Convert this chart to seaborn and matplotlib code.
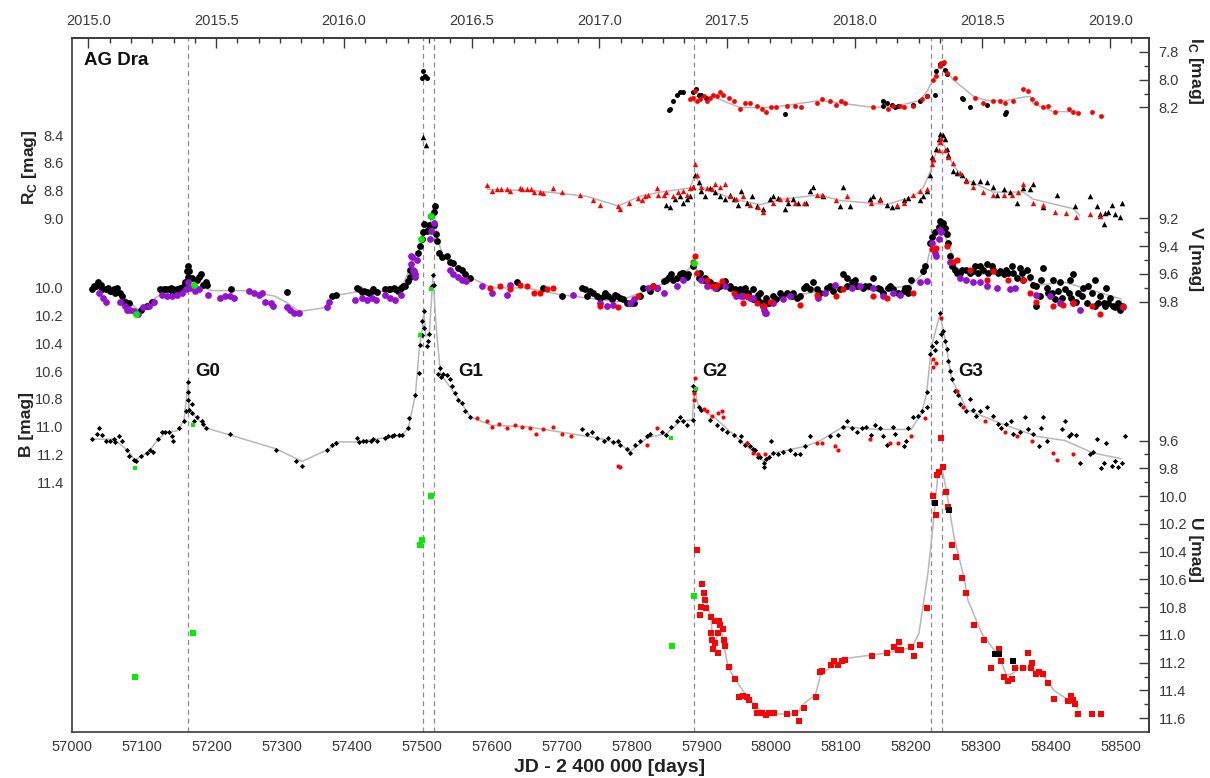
import numpy as np
import pandas as pd
import matplotlib
matplotlib.use("Agg")
import matplotlib.pyplot as plt
import seaborn as sns

# ---- light curves of AG Dra: (JD - 2400000, magnitude) ----
ic_black = [(57502, 7.94), (57505, 7.97), (57501, 7.99), (57508, 7.99),
            (57853, 8.22), (57855, 8.21), (57860, 8.15), (57865, 8.11), (57869, 8.09), (57874, 8.09),
            (57888, 8.09), (57892, 8.07), (57896, 8.11), (57900, 8.11), (57907, 8.13),
            (58019, 8.25), (58160, 8.19), (58160, 8.15), (58165, 8.17), (58172, 8.18), (58177, 8.20),
            (58181, 8.19), (58203, 8.18), (58212, 8.15), (58222, 8.12), (58234, 8.11), (58236, 7.94),
            (58241, 7.89), (58246, 7.88), (58248, 7.93), (58251, 7.96), (58272, 8.13), (58274, 8.14),
            (58284, 8.20), (58308, 8.18), (58334, 8.25), (58336, 8.23)]
ic_red = [(57884, 8.14), (57888, 8.13), (57891, 8.08), (57893, 8.15), (57898, 8.14), (57903, 8.12),
          (57908, 8.15), (57912, 8.13), (57917, 8.11), (57922, 8.12), (57927, 8.09), (57931, 8.11),
          (57939, 8.13), (57946, 8.15), (57955, 8.21), (57962, 8.17), (57969, 8.17), (57979, 8.19),
          (57986, 8.21), (57993, 8.23), (58000, 8.20), (58007, 8.20), (58022, 8.19), (58034, 8.19),
          (58043, 8.20), (58065, 8.17), (58072, 8.14), (58084, 8.15), (58093, 8.18), (58100, 8.15),
          (58105, 8.17), (58146, 8.20), (58167, 8.21), (58174, 8.19), (58184, 8.19), (58189, 8.20),
          (58203, 8.19), (58215, 8.14), (58222, 8.12), (58231, 8.00), (58236, 7.97), (58241, 7.90),
          (58243, 7.88), (58247, 7.87), (58251, 7.95), (58262, 7.99), (58291, 8.13), (58303, 8.17),
          (58317, 8.15), (58327, 8.15), (58334, 8.17), (58346, 8.15), (58360, 8.07), (58367, 8.08),
          (58372, 8.14), (58379, 8.17), (58389, 8.20), (58396, 8.19), (58405, 8.23), (58425, 8.21),
          (58432, 8.23), (58439, 8.24), (58458, 8.23), (58472, 8.26)]
ic_trend = [(57884, 8.12), (57920, 8.13), (57955, 8.20), (58000, 8.20), (58070, 8.15), (58146, 8.20),
            (58180, 8.19), (58212, 8.15), (58222, 8.09), (58231, 8.00), (58241, 7.89), (58251, 7.94),
            (58260, 8.00), (58289, 8.12), (58308, 8.15), (58336, 8.15), (58355, 8.13), (58370, 8.12),
            (58374, 8.17), (58403, 8.23), (58432, 8.23)]

rc_black = [(57502, 8.41), (57506, 8.47),
            (57850, 8.90), (57855, 8.92), (57862, 8.86), (57869, 8.84), (57874, 8.89), (57879, 8.86),
            (57884, 8.84), (57888, 8.77), (57891, 8.69), (57896, 8.74), (57900, 8.80), (57905, 8.84),
            (57912, 8.78), (57919, 8.81), (57927, 8.84), (57934, 8.86), (57941, 8.83), (57946, 8.86),
            (57953, 8.90), (57957, 8.80), (57965, 8.89), (57972, 8.84), (57979, 8.91), (57988, 8.93),
            (57998, 8.86), (58003, 8.84), (58010, 8.85), (58019, 8.93), (58024, 8.89), (58031, 8.86),
            (58038, 8.89), (58050, 8.89), (58055, 8.80), (58060, 8.77), (58074, 8.84), (58098, 8.91),
            (58103, 8.77), (58112, 8.91), (58141, 8.86), (58146, 8.84), (58155, 8.86), (58165, 8.90),
            (58172, 8.92), (58179, 8.91), (58189, 8.87), (58196, 8.85), (58212, 8.87), (58217, 8.84),
            (58222, 8.80), (58227, 8.69), (58229, 8.56), (58231, 8.57), (58236, 8.50), (58240, 8.43),
            (58241, 8.39), (58246, 8.40), (58248, 8.43), (58251, 8.50), (58253, 8.54), (58260, 8.66),
            (58265, 8.67), (58272, 8.69), (58279, 8.72), (58289, 8.74), (58298, 8.73), (58308, 8.74),
            (58317, 8.77), (58322, 8.83), (58332, 8.79), (58341, 8.81), (58351, 8.89), (58360, 8.78),
            (58370, 8.79), (58374, 8.75), (58389, 8.92), (58408, 8.83), (58434, 8.91), (58456, 8.84),
            (58465, 8.91), (58470, 8.97), (58475, 9.04), (58477, 8.96), (58482, 8.95), (58487, 8.90),
            (58491, 8.97), (58498, 8.99), (58502, 8.89)]
rc_red = [(57594, 8.76), (57600, 8.80), (57607, 8.79), (57614, 8.79), (57622, 8.79), (57626, 8.80),
          (57641, 8.78), (57643, 8.79), (57650, 8.79), (57657, 8.79), (57660, 8.81), (57669, 8.81),
          (57674, 8.82), (57688, 8.78), (57700, 8.81), (57726, 8.83), (57745, 8.87), (57755, 8.90),
          (57781, 8.91), (57783, 8.93), (57796, 8.89), (57810, 8.85), (57815, 8.87), (57819, 8.84),
          (57824, 8.83), (57836, 8.78), (57838, 8.83), (57846, 8.83), (57850, 8.81), (57860, 8.84),
          (57867, 8.81), (57874, 8.80), (57879, 8.83), (57884, 8.78), (57888, 8.77), (57891, 8.61),
          (57893, 8.69), (57900, 8.77), (57908, 8.78), (57915, 8.79), (57919, 8.75), (57927, 8.77),
          (57934, 8.75), (57941, 8.84), (57950, 8.86), (57960, 8.84), (57969, 8.90), (57981, 8.92),
          (57988, 8.95), (58003, 8.89), (58012, 8.86), (58022, 8.86), (58034, 8.89), (58046, 8.89),
          (58065, 8.83), (58072, 8.83), (58093, 8.87), (58108, 8.84), (58143, 8.89), (58155, 8.87),
          (58179, 8.90), (58189, 8.89), (58203, 8.83), (58212, 8.80), (58222, 8.79), (58229, 8.61),
          (58231, 8.57), (58239, 8.51), (58241, 8.45), (58243, 8.42), (58248, 8.51), (58253, 8.56),
          (58260, 8.60), (58270, 8.67), (58279, 8.73), (58289, 8.77), (58303, 8.81), (58317, 8.83),
          (58332, 8.83), (58344, 8.83), (58353, 8.81), (58360, 8.75), (58374, 8.89), (58389, 8.90),
          (58405, 8.95), (58422, 8.96), (58436, 8.99), (58456, 8.97), (58470, 8.98)]
rc_trend = [(57594, 8.79), (57660, 8.80), (57700, 8.82), (57736, 8.84), (57781, 8.91), (57812, 8.84),
            (57841, 8.81), (57884, 8.78), (57891, 8.68), (57898, 8.77), (57946, 8.86), (57984, 8.90),
            (58017, 8.86), (58069, 8.83), (58098, 8.87), (58165, 8.90), (58203, 8.84), (58217, 8.78),
            (58229, 8.64), (58241, 8.42), (58253, 8.53), (58260, 8.62), (58279, 8.72), (58317, 8.81),
            (58360, 8.81), (58374, 8.86), (58432, 8.93), (58441, 8.98)]

v_black = [(57029, 9.71), (57034, 9.69), (57037, 9.66), (57041, 9.68), (57043, 9.71), (57048, 9.71),
           (57055, 9.72), (57060, 9.71), (57064, 9.70), (57069, 9.74), (57076, 9.80), (57081, 9.81),
           (57098, 9.86), (57107, 9.83), (57114, 9.80), (57126, 9.71), (57131, 9.71), (57138, 9.71),
           (57143, 9.72), (57150, 9.71), (57155, 9.70), (57162, 9.66), (57166, 9.62), (57166, 9.54),
           (57168, 9.58), (57172, 9.63), (57179, 9.64), (57184, 9.60), (57188, 9.68), (57193, 9.68),
           (57228, 9.71), (57307, 9.73), (57372, 9.76), (57377, 9.75), (57408, 9.70), (57415, 9.73),
           (57422, 9.73), (57429, 9.72), (57436, 9.73), (57448, 9.71), (57455, 9.71), (57462, 9.71),
           (57470, 9.70), (57471, 9.70), (57476, 9.69), (57474, 9.69), (57481, 9.65), (57484, 9.62),
           (57483, 9.57), (57495, 9.45), (57498, 9.40), (57500, 9.35), (57502, 9.30), (57503, 9.24),
           (57507, 9.29), (57510, 9.25), (57514, 9.18), (57517, 9.15), (57519, 9.11), (57517, 9.25),
           (57521, 9.31), (57522, 9.36), (57525, 9.45), (57529, 9.48), (57536, 9.47), (57541, 9.51),
           (57545, 9.52), (57552, 9.56), (57557, 9.57), (57562, 9.60), (57569, 9.63), (57636, 9.66),
           (57674, 9.70), (57700, 9.76), (57729, 9.70), (57734, 9.71), (57741, 9.72), (57750, 9.76),
           (57760, 9.76), (57767, 9.76), (57776, 9.75), (57784, 9.77), (57793, 9.81), (57800, 9.81),
           (57817, 9.70), (57831, 9.69), (57846, 9.65), (57853, 9.62), (57860, 9.64), (57869, 9.60),
           (57874, 9.59), (57881, 9.60), (57888, 9.54), (57896, 9.63), (57903, 9.64), (57910, 9.66),
           (57919, 9.68), (57927, 9.69), (57934, 9.65), (57941, 9.70), (57950, 9.74), (57958, 9.72),
           (57965, 9.76), (57974, 9.78), (57984, 9.80), (57993, 9.81), (57955, 9.71), (57960, 9.74),
           (57967, 9.76), (57974, 9.71), (57981, 9.75), (57988, 9.83), (57996, 9.81), (58003, 9.76),
           (58012, 9.74), (58022, 9.74), (58029, 9.76), (58036, 9.77), (58041, 9.76), (58050, 9.69),
           (58055, 9.71), (58060, 9.66), (58069, 9.74), (58079, 9.70), (58088, 9.72), (58098, 9.71),
           (58103, 9.60), (58108, 9.63), (58115, 9.66), (58122, 9.69), (58131, 9.70), (58139, 9.69),
           (58146, 9.63), (58153, 9.70), (58160, 9.74), (58167, 9.70), (58174, 9.71), (58181, 9.74),
           (58189, 9.72), (58196, 9.70), (58200, 9.64), (58217, 9.58), (58220, 9.54), (58227, 9.38),
           (58229, 9.33), (58234, 9.30), (58239, 9.26), (58241, 9.22), (58246, 9.23), (58248, 9.27),
           (58251, 9.31), (58253, 9.38), (58255, 9.47), (58258, 9.54), (58262, 9.57), (58270, 9.59),
           (58279, 9.57), (58289, 9.58), (58298, 9.54), (58308, 9.53), (58317, 9.57), (58327, 9.58),
           (58336, 9.57), (58346, 9.59), (58355, 9.56), (58365, 9.57), (58360, 9.64), (58379, 9.69),
           (58384, 9.76), (58389, 9.56), (58396, 9.74), (58403, 9.64), (58413, 9.66), (58420, 9.71),
           (58427, 9.64), (58432, 9.60), (58439, 9.74), (58446, 9.70), (58453, 9.69), (58463, 9.64),
           (58470, 9.76), (58475, 9.81), (58479, 9.70), (58484, 9.77), (58489, 9.83), (58496, 9.81),
           (58501, 9.83), (58379, 9.83),
           (57031, 9.69), (57036, 9.68), (57052, 9.70), (57057, 9.72), (57062, 9.74), (57072, 9.76),
           (57074, 9.81), (57129, 9.72), (57134, 9.71), (57141, 9.70), (57145, 9.71), (57153, 9.71),
           (57160, 9.69), (57164, 9.58), (57181, 9.62), (57191, 9.66), (57410, 9.71), (57417, 9.72),
           (57424, 9.74), (57431, 9.71), (57453, 9.71), (57460, 9.70), (57466, 9.72),
           (57736, 9.76), (57745, 9.74), (57755, 9.77), (57762, 9.74), (57772, 9.78), (57779, 9.76),
           (57788, 9.78), (57803, 9.81), (57812, 9.76), (57827, 9.72), (57836, 9.70), (57850, 9.64),
           (57857, 9.60), (57865, 9.63), (57872, 9.59), (57879, 9.62), (57898, 9.59), (57905, 9.63),
           (57912, 9.66), (57922, 9.70), (57941, 9.69), (57948, 9.71), (57955, 9.75), (57967, 9.74),
           (57979, 9.77), (57989, 9.81),
           (57962, 9.70), (57976, 9.78), (57984, 9.74), (57993, 9.77), (58007, 9.78), (58015, 9.76),
           (58031, 9.74), (58046, 9.70), (58065, 9.71), (58084, 9.69), (58108, 9.69), (58119, 9.64),
           (58134, 9.69), (58155, 9.71), (58170, 9.69), (58191, 9.70), (58196, 9.74),
           (58265, 9.59), (58272, 9.57), (58284, 9.59), (58291, 9.54), (58296, 9.59), (58303, 9.57),
           (58310, 9.59), (58315, 9.54), (58324, 9.59), (58332, 9.60), (58339, 9.59), (58344, 9.54),
           (58351, 9.63), (58358, 9.59), (58370, 9.62), (58374, 9.68), (58386, 9.64), (58394, 9.70),
           (58401, 9.74), (58405, 9.78), (58410, 9.72), (58415, 9.77), (58425, 9.74), (58429, 9.77),
           (58436, 9.80), (58444, 9.76), (58451, 9.81), (58458, 9.74), (58463, 9.83), (58467, 9.81),
           (58477, 9.83), (58482, 9.81), (58491, 9.84), (58498, 9.86)]
v_purple = [(57038, 9.74), (57045, 9.77), (57048, 9.80), (57069, 9.80), (57076, 9.83), (57079, 9.86),
            (57083, 9.86), (57088, 9.87), (57095, 9.89), (57102, 9.84), (57110, 9.83), (57117, 9.80),
            (57129, 9.75), (57136, 9.76), (57143, 9.76), (57150, 9.75), (57157, 9.74), (57163, 9.71),
            (57166, 9.66), (57169, 9.70), (57176, 9.72), (57181, 9.71), (57195, 9.75), (57212, 9.77),
            (57219, 9.76), (57226, 9.76), (57231, 9.77), (57253, 9.72), (57260, 9.74), (57267, 9.75),
            (57272, 9.74), (57276, 9.80), (57284, 9.81), (57288, 9.83), (57307, 9.84), (57312, 9.86),
            (57317, 9.88), (57324, 9.88), (57365, 9.84), (57368, 9.80), (57405, 9.79), (57415, 9.77),
            (57422, 9.79), (57429, 9.77), (57435, 9.79), (57448, 9.75), (57455, 9.77), (57462, 9.79),
            (57470, 9.75), (57485, 9.53), (57489, 9.58), (57491, 9.60), (57493, 9.50), (57485, 9.47),
            (57486, 9.48), (57488, 9.57), (57490, 9.62), (57512, 9.35), (57514, 9.29), (57517, 9.23),
            (57541, 9.57), (57545, 9.60), (57552, 9.62), (57557, 9.64), (57564, 9.65), (57586, 9.69),
            (57600, 9.74), (57622, 9.75), (57626, 9.68), (57717, 9.75), (57755, 9.81), (57765, 9.83),
            (57774, 9.82), (57798, 9.81), (57803, 9.78), (57824, 9.70), (57836, 9.70), (57846, 9.74),
            (57865, 9.69), (57874, 9.64), (57900, 9.64), (57908, 9.69), (57919, 9.70), (57934, 9.69),
            (57950, 9.76), (57960, 9.76), (57974, 9.77), (57989, 9.86), (57993, 9.88), (57957, 9.76),
            (57969, 9.77), (57988, 9.83), (57991, 9.88), (58003, 9.81), (58017, 9.78), (58027, 9.76),
            (58067, 9.77), (58077, 9.74), (58091, 9.68), (58115, 9.70), (58127, 9.69), (58146, 9.70),
            (58160, 9.76), (58174, 9.74), (58184, 9.75), (58212, 9.66), (58222, 9.65), (58229, 9.38),
            (58234, 9.45), (58236, 9.47), (58239, 9.35), (58241, 9.28), (58243, 9.30), (58255, 9.51),
            (58270, 9.63), (58279, 9.64), (58289, 9.66), (58298, 9.66), (58308, 9.69), (58322, 9.70),
            (58341, 9.71), (58348, 9.70), (58379, 9.75), (58398, 9.76), (58413, 9.81), (58432, 9.81),
            (58441, 9.86), (58503, 9.84)]
v_red = [(57598, 9.70), (57612, 9.69), (57626, 9.71), (57641, 9.68), (57650, 9.69), (57660, 9.74),
         (57669, 9.74), (57679, 9.71), (57688, 9.70), (57755, 9.83), (57781, 9.84), (57810, 9.76),
         (57831, 9.69), (57888, 9.51), (57891, 9.47), (57893, 9.59), (57908, 9.64), (57915, 9.69),
         (57922, 9.68), (57929, 9.65), (57946, 9.74), (57965, 9.76), (57979, 9.81), (57989, 9.83),
         (57960, 9.81), (57998, 9.80), (58041, 9.82), (58065, 9.75), (58093, 9.76), (58103, 9.71),
         (58146, 9.76), (58165, 9.77), (58203, 9.74), (58229, 9.42), (58236, 9.41), (58251, 9.40),
         (58260, 9.51), (58265, 9.50), (58284, 9.57), (58308, 9.64), (58317, 9.58), (58339, 9.64),
         (58360, 9.64), (58370, 9.74), (58379, 9.80), (58403, 9.83), (58417, 9.82), (58432, 9.81),
         (58458, 9.83), (58470, 9.89), (58503, 9.83)]
v_green = [(57091, 9.89), (57174, 9.68), (57499, 9.35), (57514, 9.18), (57889, 9.52)]
v_trend = [(57029, 9.70), (57069, 9.74), (57095, 9.86), (57117, 9.78), (57135, 9.72), (57160, 9.70),
           (57166, 9.60), (57176, 9.68), (57200, 9.72), (57250, 9.72), (57290, 9.76), (57305, 9.80),
           (57325, 9.87), (57365, 9.84), (57372, 9.76), (57405, 9.73), (57470, 9.72), (57486, 9.52),
           (57498, 9.40), (57503, 9.26), (57510, 9.28), (57517, 9.13), (57522, 9.33), (57530, 9.47),
           (57560, 9.60), (57600, 9.70), (57650, 9.70), (57700, 9.75), (57780, 9.80), (57830, 9.70),
           (57870, 9.62), (57889, 9.53), (57900, 9.63), (57950, 9.72), (57990, 9.80), (58050, 9.74),
           (58100, 9.70), (58150, 9.72), (58200, 9.68), (58220, 9.58), (58229, 9.38), (58241, 9.24),
           (58253, 9.38), (58265, 9.56), (58300, 9.60), (58350, 9.60), (58380, 9.68), (58420, 9.66),
           (58460, 9.72), (58500, 9.78)]

b_black = [(57029, 11.09), (57036, 11.05), (57038, 11.01), (57043, 11.06), (57048, 11.10), (57055, 11.10),
           (57060, 11.09), (57062, 11.11), (57067, 11.07), (57071, 11.10), (57079, 11.17), (57082, 11.21),
           (57088, 11.24), (57091, 11.25), (57098, 11.21), (57107, 11.19), (57112, 11.17), (57116, 11.18),
           (57123, 11.09), (57128, 11.04), (57133, 11.04), (57139, 11.04), (57143, 11.07), (57145, 11.10),
           (57153, 11.01), (57160, 10.96), (57163, 10.89), (57166, 10.81), (57166, 10.75), (57166, 10.68),
           (57168, 10.88), (57171, 10.84), (57172, 10.90), (57175, 10.96), (57179, 10.93), (57186, 10.96),
           (57187, 10.98), (57192, 11.01), (57226, 11.05), (57292, 11.17), (57320, 11.25), (57329, 11.28),
           (57365, 11.17), (57372, 11.13), (57377, 11.12), (57408, 11.08), (57411, 11.11), (57416, 11.10),
           (57420, 11.10), (57427, 11.10), (57431, 11.09), (57436, 11.10), (57447, 11.08), (57452, 11.07),
           (57457, 11.07), (57461, 11.06), (57467, 11.06), (57472, 11.06), (57481, 11.01), (57482, 10.94),
           (57491, 10.77), (57496, 10.61), (57497, 10.41), (57501, 10.34), (57500, 10.24), (57503, 10.17),
           (57504, 10.29), (57508, 10.42), (57509, 10.38), (57511, 10.33), (57515, 9.99), (57516, 9.91),
           (57517, 9.98), (57524, 10.62), (57527, 10.64), (57526, 10.58), (57531, 10.62), (57536, 10.63),
           (57541, 10.66), (57543, 10.71), (57548, 10.76), (57552, 10.81), (57557, 10.83), (57562, 10.89),
           (57569, 10.93), (57729, 11.02), (57736, 11.05), (57743, 11.04), (57750, 11.08), (57760, 11.10),
           (57767, 11.08), (57774, 11.11), (57781, 11.10), (57784, 11.13), (57793, 11.16), (57798, 11.19),
           (57805, 11.13), (57812, 11.10), (57822, 11.07), (57827, 11.05), (57843, 11.04), (57850, 11.06),
           (57857, 11.00), (57865, 10.96), (57869, 10.93), (57874, 10.96), (57879, 10.99), (57888, 10.95),
           (57888, 10.71), (57889, 10.74), (57896, 10.86), (57900, 10.88), (57912, 10.95), (57922, 10.99),
           (57929, 11.02), (57936, 11.04), (57946, 11.06), (57955, 11.10), (57962, 11.13), (57970, 11.14),
           (57977, 11.17), (57984, 11.22), (57989, 11.26), (57993, 11.23), (57957, 11.07), (57965, 11.12),
           (57974, 11.16), (57981, 11.22), (57989, 11.29), (57996, 11.22), (58000, 11.10), (58003, 11.19),
           (58010, 11.20), (58017, 11.18), (58027, 11.17), (58034, 11.20), (58041, 11.20), (58048, 11.14),
           (58055, 11.07), (58084, 11.07), (58096, 11.06), (58103, 11.00), (58108, 10.96), (58115, 11.01),
           (58122, 11.04), (58129, 11.01), (58136, 11.00), (58143, 11.06), (58148, 10.99), (58155, 11.01),
           (58160, 11.07), (58165, 11.13), (58174, 11.00), (58177, 11.05), (58189, 11.14), (58193, 11.10),
           (58196, 11.01), (58203, 10.93), (58210, 10.92), (58215, 10.89), (58222, 10.86), (58222, 10.75),
           (58227, 10.48), (58229, 10.42), (58234, 10.45), (58236, 10.39), (58241, 10.18), (58243, 10.33),
           (58246, 10.31), (58248, 10.38), (58251, 10.44), (58253, 10.53), (58255, 10.60), (58258, 10.66),
           (58262, 10.74), (58267, 10.77), (58270, 10.84), (58279, 10.89), (58284, 10.80), (58289, 10.88),
           (58293, 10.92), (58298, 10.89), (58308, 10.86), (58317, 10.92), (58324, 10.98), (58329, 11.01),
           (58336, 10.98), (58343, 10.96), (58346, 11.05), (58355, 11.04), (58363, 10.93), (58367, 11.02),
           (58374, 11.05), (58382, 11.14), (58386, 11.01), (58389, 10.93), (58394, 11.10), (58415, 11.02),
           (58420, 10.96), (58425, 11.07), (58429, 11.05), (58436, 11.06), (58441, 11.26), (58455, 11.20),
           (58460, 11.18), (58465, 11.09), (58472, 11.30), (58475, 11.26), (58479, 11.12), (58487, 11.28),
           (58491, 11.25), (58496, 11.29), (58501, 11.26), (58506, 11.07)]
b_red = [(57579, 10.94), (57593, 10.96), (57600, 11.00), (57610, 10.98), (57622, 11.01), (57633, 10.99),
         (57643, 11.00), (57655, 11.01), (57664, 11.05), (57674, 11.02), (57688, 11.00), (57700, 11.05),
         (57714, 11.07), (57781, 11.28), (57784, 11.29), (57822, 11.13), (57836, 11.01), (57889, 10.76),
         (57889, 10.81), (57891, 10.65), (57903, 10.87), (57908, 10.89), (57915, 10.92), (57924, 10.90),
         (57929, 10.89), (57931, 10.93), (57965, 11.12), (57974, 11.19), (57981, 11.20), (57991, 11.20),
         (58065, 11.12), (58072, 11.12), (58091, 11.14), (58096, 11.17), (58141, 11.09), (58169, 11.12),
         (58181, 11.12), (58200, 11.07), (58220, 10.94), (58231, 10.51), (58231, 10.57), (58236, 10.54),
         (58243, 10.22), (58265, 10.74), (58274, 10.86), (58305, 10.96), (58334, 11.04), (58351, 11.07),
         (58372, 11.10), (58403, 11.19), (58408, 11.24), (58432, 11.20)]
b_green = [(57090, 11.30), (57173, 10.99), (57498, 10.34), (57514, 10.01), (57857, 11.08), (57892, 10.73)]
b_trend = [(57029, 11.09), (57060, 11.09), (57079, 11.17), (57090, 11.24), (57110, 11.18), (57123, 11.09),
           (57135, 11.04), (57150, 11.03), (57160, 10.96), (57166, 10.69), (57168, 10.88), (57192, 11.01),
           (57226, 11.06), (57292, 11.16), (57329, 11.25), (57368, 11.16), (57377, 11.11), (57408, 11.11),
           (57472, 11.06), (57481, 11.01), (57491, 10.77), (57497, 10.42), (57501, 10.30), (57503, 10.17),
           (57506, 10.35), (57511, 10.33), (57516, 9.92), (57521, 10.30), (57527, 10.62), (57550, 10.78),
           (57570, 10.93), (57600, 10.99), (57650, 11.00), (57700, 11.04), (57750, 11.08), (57782, 11.12),
           (57798, 11.18), (57822, 11.08), (57850, 11.05), (57870, 10.96), (57887, 10.95), (57890, 10.72),
           (57896, 10.86), (57920, 10.94), (57960, 11.12), (57989, 11.25), (58003, 11.19), (58050, 11.14),
           (58070, 11.10), (58103, 11.00), (58150, 11.02), (58200, 11.02), (58215, 10.90), (58222, 10.76),
           (58229, 10.42), (58241, 10.19), (58248, 10.36), (58258, 10.66), (58280, 10.88), (58330, 10.98),
           (58380, 11.07), (58420, 11.10), (58460, 11.19), (58500, 11.23)]

u_red = [(57893, 10.39), (57901, 10.63), (57903, 10.70), (57905, 10.75), (57899, 10.80), (57907, 10.81),
         (57898, 10.86), (57913, 10.87), (57920, 10.90), (57925, 10.90), (57926, 10.93), (57931, 10.96),
         (57914, 10.99), (57924, 10.99), (57915, 11.04), (57919, 11.06), (57932, 11.04), (57934, 11.08),
         (57916, 11.10), (57924, 11.13), (57939, 11.23), (57948, 11.32), (57954, 11.45), (57960, 11.44),
         (57965, 11.45), (57968, 11.47), (57976, 11.51), (57980, 11.56), (57987, 11.56), (57992, 11.58),
         (57997, 11.56), (58004, 11.56), (58022, 11.57), (58034, 11.56), (58040, 11.62), (58046, 11.53),
         (58064, 11.45), (58069, 11.27), (58072, 11.26), (58085, 11.22), (58089, 11.19), (58095, 11.22),
         (58101, 11.19), (58106, 11.18), (58144, 11.15), (58166, 11.13), (58175, 11.09), (58182, 11.05),
         (58181, 11.11), (58186, 11.11), (58200, 11.09), (58204, 11.15), (58212, 11.07), (58222, 10.81),
         (58231, 10.00), (58236, 10.14), (58237, 9.85), (58239, 9.83), (58243, 9.58), (58246, 9.79),
         (58250, 9.97), (58252, 10.08), (58258, 10.35), (58264, 10.44), (58273, 10.59), (58278, 10.70),
         (58290, 10.93), (58304, 11.04), (58326, 11.10), (58329, 11.19), (58314, 11.24), (58333, 11.30),
         (58339, 11.33), (58344, 11.32), (58349, 11.24), (58360, 11.24), (58367, 11.13), (58371, 11.24),
         (58372, 11.20), (58378, 11.28), (58382, 11.27), (58389, 11.28), (58396, 11.35), (58404, 11.46),
         (58424, 11.48), (58429, 11.44), (58431, 11.47), (58434, 11.50), (58439, 11.57), (58458, 11.57),
         (58472, 11.57)]
u_black = [(58234, 10.05), (58254, 10.10), (58320, 11.14), (58326, 11.14), (58345, 11.19)]
u_green = [(57090, 11.30), (57173, 10.99), (57498, 10.35), (57500, 10.32), (57513, 10.00),
           (57858, 11.08), (57890, 10.72)]
u_trend = [(57900, 10.68), (57914, 10.87), (57916, 11.08), (57928, 10.96), (57938, 11.23), (57948, 11.32),
           (57966, 11.45), (57981, 11.53), (57996, 11.57), (58036, 11.57), (58048, 11.49), (58063, 11.43),
           (58071, 11.28), (58106, 11.17), (58166, 11.13), (58201, 11.09), (58211, 10.99), (58224, 10.55),
           (58231, 10.22), (58238, 9.85), (58244, 9.80), (58251, 9.98), (58261, 10.29), (58276, 10.60),
           (58281, 10.75), (58301, 10.99), (58326, 11.16), (58336, 11.29), (58345, 11.28), (58354, 11.24),
           (58372, 11.24), (58387, 11.28), (58404, 11.40), (58422, 11.46), (58439, 11.53)]

outburst_jd = [57166, 57501.5, 57517, 57890, 58228, 58243.5]
outburst_labels = [("G0", 57176), ("G1", 57552), ("G2", 57901), ("G3", 58267)]

# every band shares one axis, shifted so the curves stack
offset = {"Ic": 0.5, "Rc": 0.5, "V": 0.3, "B": 0.0, "U": 1.5}
rc_ticks = [8.4, 8.6, 8.8, 9.0]
b_ticks = [10.0, 10.2, 10.4, 10.6, 10.8, 11.0, 11.2, 11.4]
ic_ticks = [7.8, 8.0, 8.2]
v_ticks = [9.2, 9.4, 9.6, 9.8]
u_ticks = [9.6, 9.8, 10.0, 10.2, 10.4, 10.6, 10.8, 11.0, 11.2, 11.4, 11.6]

RED, PURPLE, GREEN, BLACK = "#ff0000", "#9412d0", "#00ee00", "#000000"
INK = "#3a3a3a"


def to_df(points, band):
    df = pd.DataFrame(points, columns=["jd", "mag"])
    df["y"] = df["mag"] + offset[band]
    return df


sns.set_style("white")
plt.rcParams["font.family"] = ["Liberation Sans", "DejaVu Sans"]
plt.rcParams["mathtext.fontset"] = "custom"
plt.rcParams["mathtext.rm"] = "Liberation Sans"
plt.rcParams["mathtext.bf"] = "Liberation Sans:bold"

fig = plt.figure(figsize=(12.1, 7.78), dpi=100)
ax = fig.add_axes([0.0595, 0.0591, 0.8901, 0.8920])

for jd in outburst_jd:
    ax.axvline(jd, color="#8c8c8c", lw=0.9, ls=(0, (4, 3)), zorder=1)

for pts, band in [(ic_trend, "Ic"), (rc_trend, "Rc"), (v_trend, "V"), (b_trend, "B"), (u_trend, "U")]:
    sns.lineplot(data=to_df(pts, band), x="jd", y="y", color="#b8b8b8", lw=1.1,
                 sort=False, estimator=None, ax=ax, zorder=2)

series = [
    (ic_black, "Ic", BLACK, "o", 13), (ic_red, "Ic", RED, "o", 12),
    (rc_black, "Rc", BLACK, "^", 16), (rc_red, "Rc", RED, "^", 15),
    (v_black, "V", BLACK, "o", 24), (v_purple, "V", PURPLE, "o", 24),
    (v_red, "V", RED, "o", 20), (v_green, "V", GREEN, "o", 24),
    (b_black, "B", BLACK, "D", 7), (b_red, "B", RED, "o", 9), (b_green, "B", GREEN, "s", 8),
    (u_red, "U", RED, "s", 16), (u_black, "U", BLACK, "s", 16), (u_green, "U", GREEN, "s", 14),
]
for pts, band, col, mk, size in series:
    sns.scatterplot(data=to_df(pts, band), x="jd", y="y", color=col, marker=mk, s=size,
                    linewidth=0, ax=ax, zorder=3)

ax.set_xlim(57000, 58540)
ax.set_ylim(13.2, 8.2)
ax.set_xlabel("")
ax.set_ylabel("")

# bottom JD axis
ax.set_xticks(np.arange(57000, 58501, 100))
ax.set_xticks(np.arange(57000, 58540, 20), minor=True)

# left axis: Rc and B
left_major = [t + offset["Rc"] for t in rc_ticks] + [t + offset["B"] for t in b_ticks]
left_labels = [f"{t:.1f}" for t in rc_ticks + b_ticks]
ax.set_yticks(left_major, left_labels)
left_minor = [t + 0.1 + offset["Rc"] for t in rc_ticks[:-1]] + [t + 0.1 + offset["B"] for t in b_ticks[:-1]]
ax.set_yticks(left_minor, minor=True)

ax.tick_params(which="major", direction="in", length=7, width=1, color=INK,
               labelcolor=INK, labelsize=10.5, pad=6)
ax.tick_params(which="minor", direction="in", length=3.5, width=1, color=INK)

# right axis: Ic, V, U
right = ax.secondary_yaxis("right", functions=(lambda y: y, lambda y: y))
right_major = ([t + offset["Ic"] for t in ic_ticks] + [t + offset["V"] for t in v_ticks]
               + [t + offset["U"] for t in u_ticks])
right_labels = [f"{t:.1f}" for t in ic_ticks + v_ticks + u_ticks]
right.set_yticks(right_major, right_labels)
right_minor = ([t + 0.1 + offset["Ic"] for t in ic_ticks[:-1]] + [t + 0.1 + offset["V"] for t in v_ticks[:-1]]
               + [t + 0.1 + offset["U"] for t in u_ticks[:-1]])
right.set_yticks(right_minor, minor=True)


# top axis: calendar year
def jd2yr(jd):
    return 2015.0 + (np.asarray(jd) - 57023.5) / 365.25


def yr2jd(yr):
    return 57023.5 + (np.asarray(yr) - 2015.0) * 365.25


top = ax.secondary_xaxis("top", functions=(jd2yr, yr2jd))
year_ticks = [2015.0, 2015.5, 2016.0, 2016.5, 2017.0, 2017.5, 2018.0, 2018.5, 2019.0]
top.set_xticks(year_ticks, [f"{y:.1f}" for y in year_ticks])
top.set_xticks(np.arange(2015.0, 2019.1, 1 / 12), minor=True)

for a in [right, top]:
    a.tick_params(which="major", direction="in", length=7, width=1, color=INK,
                  labelcolor=INK, labelsize=10.5, pad=7)
    a.tick_params(which="minor", direction="in", length=3.5, width=1, color=INK)

for a in [ax, right, top]:
    for sp in a.spines.values():
        sp.set_color(INK)
        sp.set_linewidth(1.2)

# labels
lab = dict(fontsize=12.5, fontweight="bold", color="#222222")
fig.text(0.024, 0.785, r"R$_\mathbf{C}$ [mag]", rotation=90, ha="center", va="center", **lab)
fig.text(0.022, 0.454, "B [mag]", rotation=90, ha="center", va="center", **lab)
fig.text(0.988, 0.909, r"I$_\mathbf{C}$ [mag]", rotation=270, ha="center", va="center", **lab)
fig.text(0.988, 0.667, "V [mag]", rotation=270, ha="center", va="center", **lab)
fig.text(0.988, 0.294, "U [mag]", rotation=270, ha="center", va="center", **lab)
fig.text(0.504, 0.014, "JD - 2 400 000 [days]", ha="center", va="center",
         fontsize=14, fontweight="bold", color="#222222")

ax.text(0.011, 0.968, "AG Dra", transform=ax.transAxes, ha="left", va="center",
        fontsize=13.5, fontweight="bold", color="#111111")
for name, jd in outburst_labels:
    ax.text(jd, 10.6, name, ha="left", va="center", fontsize=13.5, fontweight="bold", color="#111111")

fig.savefig("out.png", dpi=100)
